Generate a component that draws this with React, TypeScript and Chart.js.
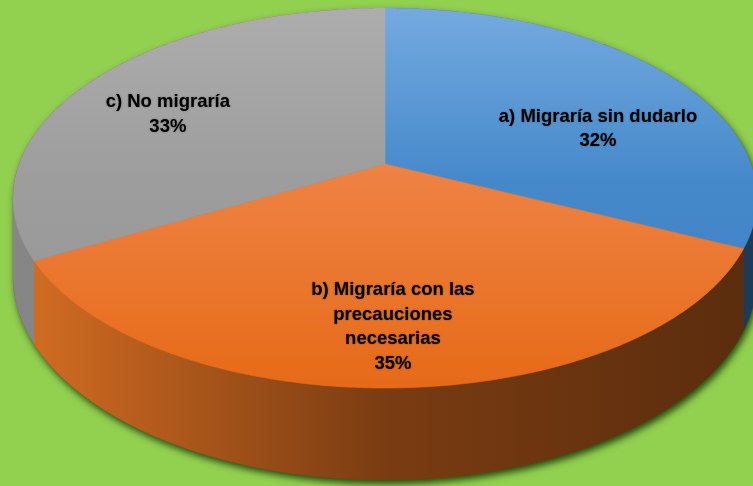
import React, { useEffect, useRef } from "react";
import { Chart, registerables } from "chart.js";

Chart.register(...registerables);

// ---- data ----
const categories = [
  "a) Migraría sin dudarlo",
  "b) Migraría con las precauciones necesarias",
  "c) No migraría",
];
const labelLines = [
  ["a) Migraría sin dudarlo"],
  ["b) Migraría con las", "precauciones", "necesarias"],
  ["c) No migraría"],
];
const values = [32, 35, 33];

// ---- styles ----
const baseColors = ["#5B9BD5", "#ED7D31", "#A5A5A5"];
const topStops = [
  ["#74AADF", "#4689CB", "#3C7DC1"],
  ["#F39A5E", "#EE8141", "#E66A18"],
  ["#ADADAD", "#9D9D9D", "#959595"],
];
const sideStops = [
  ["#2E5680", "#244669", "#1D3A58"],
  ["#D66E23", "#7A3C12", "#5A2C0D"],
  ["#868686", "#747474", "#5E5E5E"],
];
const BG = "#92D050";

// projection of a tilted disc (perspective)
const G = { cx: 385, cy: 164, A: 366, B: 183.9, k: 0.179, D: 75.5 };
function topPt(t: number): [number, number] {
  const d = 1 - G.k * Math.sin(t);
  return [G.cx + (G.A * Math.cos(t)) / d, G.cy + (G.B * Math.sin(t)) / d];
}
function botPt(t: number): [number, number] {
  const d = 1 - G.k * Math.sin(t);
  const p = topPt(t);
  return [p[0], p[1] + G.D / d];
}
function rim(ctx: CanvasRenderingContext2D, f: (t: number) => [number, number], s: number, e: number, first: boolean) {
  const n = Math.max(2, Math.ceil(Math.abs(e - s) / 0.01));
  for (let i = 0; i <= n; i++) {
    const p = f(s + ((e - s) * i) / n);
    if (i === 0 && first) ctx.moveTo(p[0], p[1]);
    else ctx.lineTo(p[0], p[1]);
  }
}

const pie3d = {
  id: "pie3d",
  beforeDraw(chart: any) {
    const ctx = chart.ctx;
    ctx.save();
    ctx.fillStyle = BG;
    ctx.fillRect(0, 0, chart.width, chart.height);
    ctx.restore();
  },
  beforeDatasetsDraw(chart: any) {
    const ctx: CanvasRenderingContext2D = chart.ctx;
    const arcs = chart.getDatasetMeta(0).data;
    const a = Math.asin(G.k);
    ctx.save();

    // silhouette with shadow
    ctx.beginPath();
    rim(ctx, topPt, Math.PI - a, 2 * Math.PI + a, true);
    rim(ctx, botPt, a, Math.PI - a, false);
    ctx.closePath();
    ctx.shadowColor = "rgba(25,55,5,0.9)";
    ctx.shadowBlur = 7;
    ctx.shadowOffsetX = 2;
    ctx.shadowOffsetY = 4;
    ctx.fillStyle = "#7A3C12";
    ctx.fill();
    ctx.shadowColor = "transparent";
    ctx.shadowBlur = 0;
    ctx.shadowOffsetX = 0;
    ctx.shadowOffsetY = 0;

    // side walls
    arcs.forEach((arc: any, i: number) => {
      const s = Math.max(arc.startAngle, a);
      const e = Math.min(arc.endAngle, Math.PI - a);
      if (e <= s) return;
      const g = ctx.createLinearGradient(G.cx - 372, 0, G.cx + 372, 0);
      g.addColorStop(0, sideStops[i][0]);
      g.addColorStop(0.5, sideStops[i][1]);
      g.addColorStop(1, sideStops[i][2]);
      ctx.beginPath();
      rim(ctx, topPt, s, e, true);
      rim(ctx, botPt, e, s, false);
      ctx.closePath();
      ctx.fillStyle = g;
      ctx.fill();
      ctx.strokeStyle = g;
      ctx.lineWidth = 0.6;
      ctx.stroke();
    });

    // top faces
    arcs.forEach((arc: any, i: number) => {
      const g = ctx.createLinearGradient(0, G.cy - 156, 0, G.cy + 224);
      g.addColorStop(0, topStops[i][0]);
      g.addColorStop(0.45, topStops[i][1]);
      g.addColorStop(1, topStops[i][2]);
      ctx.beginPath();
      ctx.moveTo(G.cx, G.cy);
      rim(ctx, topPt, arc.startAngle, arc.endAngle, false);
      ctx.closePath();
      ctx.fillStyle = g;
      ctx.fill();
      ctx.strokeStyle = g;
      ctx.lineWidth = 0.6;
      ctx.stroke();
    });

    // labels
    const total = values.reduce((p, c) => p + c, 0);
    ctx.font = 'bold 18.5px "Liberation Sans", Arial, sans-serif';
    ctx.fillStyle = "#000000";
    ctx.textAlign = "center";
    ctx.textBaseline = "middle";
    ctx.shadowColor = "rgba(0,0,0,0.35)";
    ctx.shadowBlur = 2;
    const lh = 24.5;
    const ecx = G.cx, ecy = 198, erx = 371, ery = 190, r = 0.68;
    arcs.forEach((arc: any, i: number) => {
      const mid = (arc.startAngle + arc.endAngle) / 2;
      const x = ecx + erx * r * Math.cos(mid);
      const y = ecy + ery * r * Math.sin(mid) - (Math.sin(mid) < 0 && Math.cos(mid) < 0 ? 18 : 0);
      const lines = [...labelLines[i], Math.round((values[i] / total) * 100) + "%"];
      const y0 = y - ((lines.length - 1) * lh) / 2;
      lines.forEach((ln, j) => ctx.fillText(ln, x, y0 + j * lh));
    });

    ctx.restore();
    return false;
  },
};

export default function App() {
  const ref = useRef<HTMLCanvasElement | null>(null);
  useEffect(() => {
    document.body.style.margin = "0";
    if (!ref.current) return;
    const chart = new Chart(ref.current, {
      type: "pie",
      data: {
        labels: categories,
        datasets: [{ data: values, backgroundColor: baseColors, borderWidth: 0 }],
      },
      options: {
        responsive: false,
        animation: false,
        layout: { padding: 0 },
        plugins: { legend: { display: false }, tooltip: { enabled: false } },
      },
      plugins: [pie3d as any],
    });
    return () => chart.destroy();
  }, []);
  return <canvas ref={ref} width={753} height={486} style={{ display: "block" }} />;
}
